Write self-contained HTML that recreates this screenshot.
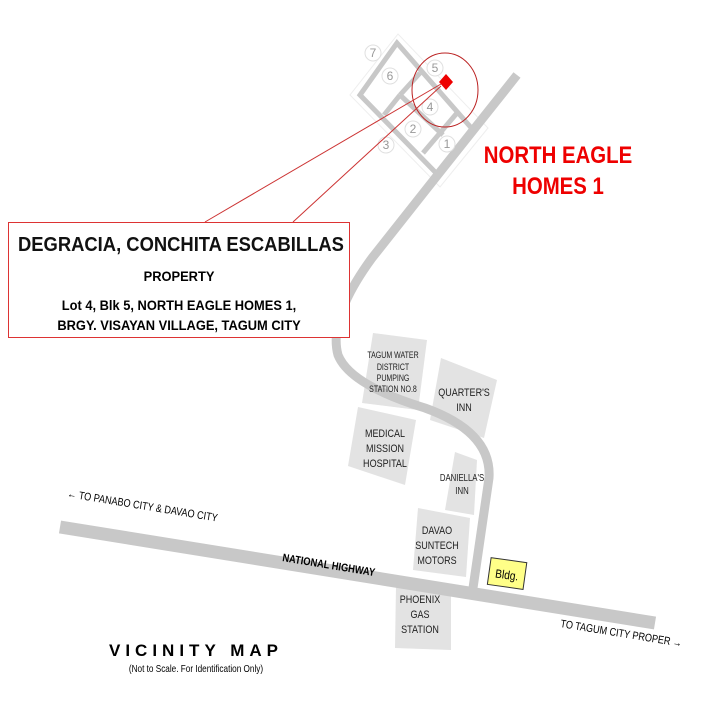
<!DOCTYPE html>
<html><head><style>
body{margin:0;background:#fff}
svg text{font-family:"Liberation Sans",Arial,sans-serif}
</style></head><body>
<svg width="720" height="720" viewBox="0 0 720 720" xmlns="http://www.w3.org/2000/svg">
<rect width="720" height="720" fill="#fff"/>
<g fill="#e3e3e3">
<polygon points="373,333 427,340 418,410 362,403"/>
<polygon points="441,358 497,380 484,438 430,420"/>
<polygon points="358,407 416,420 405,485 348,466"/>
<polygon points="455,452 477,460 474,515 445,510"/>
<polygon points="418,508 470,518 466,577 413,570"/>
<polygon points="396,586 451,592 451,650 395,648"/>
</g>
<polygon points="398,34 350,95 440,187 488,128" fill="none" stroke="#eee" stroke-width="1"/>
<g stroke="#c8c8c8" stroke-width="5" fill="none">
<polygon points="397,43 360,95 438,175 474,131"/>
<line x1="400" y1="95" x2="443" y2="135"/>
<line x1="400" y1="95" x2="420" y2="73"/>
<line x1="423" y1="153" x2="457" y2="113"/>
<line x1="384" y1="115" x2="400" y2="95"/>
</g>
<path d="M517,75 L440,172 L372,258 Q328,318 338,355 Q350,385 425,408 Q492,432 489,478 L473,588" fill="none" stroke="#c8c8c8" stroke-width="9" stroke-linejoin="round"/>
<line x1="60" y1="527" x2="655" y2="623" stroke="#c8c8c8" stroke-width="13"/>
<g fill="#fff" stroke="#e0e0e0">
<circle cx="373" cy="53" r="8"/><circle cx="390" cy="76" r="8"/><circle cx="435" cy="68" r="8"/>
<circle cx="430" cy="107" r="8"/><circle cx="413" cy="129" r="8"/><circle cx="386" cy="145" r="8"/><circle cx="447" cy="144" r="8"/>
</g>
<g fill="#999" font-size="12" text-anchor="middle">
<text x="373" y="57">7</text><text x="390" y="80">6</text><text x="435" y="72">5</text>
<text x="430" y="111">4</text><text x="413" y="133">2</text><text x="386" y="149">3</text><text x="447" y="148">1</text>
</g>
<ellipse cx="445" cy="90" rx="33" ry="37" fill="none" stroke="#b22" stroke-width="1"/>
<polygon points="446,74 453,82 446,90 439,82" fill="#e00"/>
<line x1="441" y1="84" x2="205" y2="222" stroke="#c33" stroke-width="1"/>
<line x1="441" y1="86" x2="293" y2="222" stroke="#c33" stroke-width="1"/>
<rect x="8.5" y="222.5" width="341" height="115" fill="#fff" stroke="#d33" stroke-width="1"/>
<g transform="translate(18,251) scale(0.92,1)"><text font-size="20" font-weight="bold" fill="#111">DEGRACIA, CONCHITA ESCABILLAS</text></g>
<g transform="translate(179,0) scale(0.92,1)" font-size="14" font-weight="bold" text-anchor="middle">
<text x="0" y="281">PROPERTY</text>
<text x="0" y="310">Lot 4, Blk 5, NORTH EAGLE HOMES 1,</text>
<text x="0" y="330">BRGY. VISAYAN VILLAGE, TAGUM CITY</text>
</g>
<g transform="translate(558,0) scale(0.85,1)" font-size="24" font-weight="bold" fill="#e00" text-anchor="middle">
<text x="0" y="163">NORTH EAGLE</text>
<text x="0" y="194">HOMES 1</text>
</g>
<g transform="translate(393,0) scale(0.78,1)" font-size="9" text-anchor="middle" fill="#222">
<text x="0" y="358">TAGUM WATER</text><text x="0" y="370">DISTRICT</text><text x="0" y="381">PUMPING</text><text x="0" y="392">STATION NO.8</text>
</g>
<g font-size="11" text-anchor="middle" fill="#222">
<g transform="translate(464,0) scale(0.82,1)"><text x="0" y="396">QUARTER'S</text><text x="0" y="411">INN</text></g>
<g transform="translate(385,0) scale(0.82,1)"><text x="0" y="437">MEDICAL</text><text x="0" y="452">MISSION</text><text x="0" y="467">HOSPITAL</text></g>
<g transform="translate(462,0) scale(0.78,1)" font-size="10"><text x="0" y="481">DANIELLA'S</text><text x="0" y="494">INN</text></g>
<g transform="translate(437,0) scale(0.82,1)"><text x="0" y="534">DAVAO</text><text x="0" y="549">SUNTECH</text><text x="0" y="564">MOTORS</text></g>
<g transform="translate(420,0) scale(0.82,1)"><text x="0" y="603">PHOENIX</text><text x="0" y="618">GAS</text><text x="0" y="633">STATION</text></g>
</g>
<g transform="rotate(8 507 574)"><rect x="489" y="560" width="36" height="27" fill="#ff8" stroke="#333"/><text x="507" y="579" font-size="12" text-anchor="middle" transform="translate(507,0) scale(0.85,1) translate(-507,0)">Bldg.</text></g>
<text transform="translate(282,561) rotate(9.3) scale(0.85,1)" font-size="11" font-weight="bold">NATIONAL HIGHWAY</text>
<text transform="translate(67,497) rotate(9.3) scale(0.83,1)" font-size="11">&#8592; TO PANABO CITY &amp; DAVAO CITY</text>
<text transform="translate(560,627) rotate(9.3) scale(0.83,1)" font-size="11">TO TAGUM CITY PROPER &#8594;</text>
<text x="196" y="656" font-size="17" font-weight="bold" letter-spacing="5" text-anchor="middle">VICINITY MAP</text>
<text transform="translate(196,672) scale(0.82,1)" font-size="10" text-anchor="middle">(Not to Scale. For Identification Only)</text>
</svg>
</body></html>
